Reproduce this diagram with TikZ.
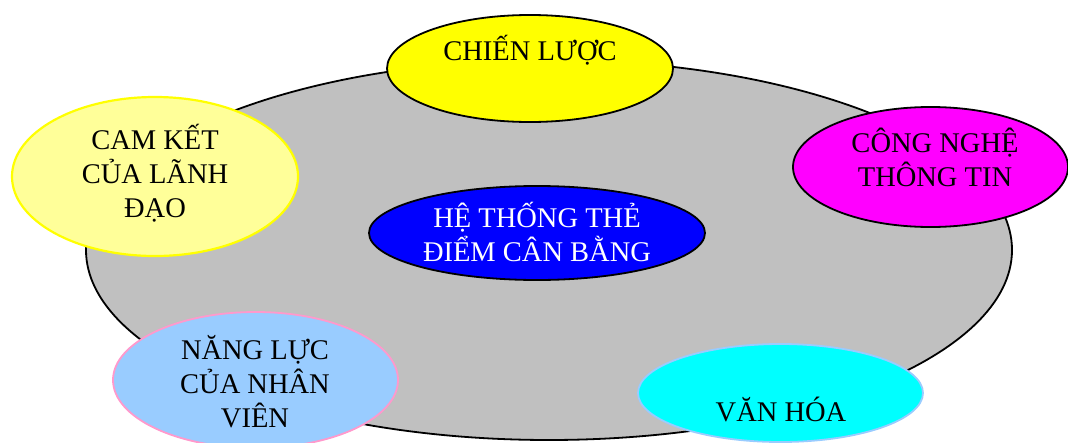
\documentclass[tikz,border=0pt]{standalone}
\usepackage{fontspec}
\setmainfont{Liberation Serif}
\usetikzlibrary{shapes.geometric}
\definecolor{ringgray}{RGB}{192,192,192}
\definecolor{paleyellow}{RGB}{255,255,153}
\definecolor{skyblue}{RGB}{153,204,255}
\definecolor{rosepink}{RGB}{255,153,204}
\definecolor{pureyellow}{RGB}{255,255,0}
\definecolor{puremagenta}{RGB}{255,0,255}
\definecolor{purecyan}{RGB}{0,255,255}
\definecolor{pureblue}{RGB}{0,0,255}
\begin{document}
\begin{tikzpicture}[x=1pt,y=-1pt,
  blob/.style={ellipse, inner sep=0pt, outer sep=0pt, line width=1.8pt, draw=black},
  caption/.style={align=center, anchor=base, inner sep=0pt,
    font=\fontsize{28.5}{34}\selectfont}]
\useasboundingbox (0,0) rectangle (1068,442);
\clip (0,0) rectangle (1068,442);
% grey ring underneath everything
\node[blob, fill=ringgray, minimum width=926pt, minimum height=380pt] (ring) at (549,250) {};
% surrounding factors
\node[blob, fill=pureyellow, minimum width=286pt, minimum height=107pt] (strat) at (530,68.5) {};
\node[blob, fill=paleyellow, draw=pureyellow, line width=2.2pt, minimum width=286pt, minimum height=159pt] (lead) at (155,176.5) {};
\node[blob, fill=puremagenta, minimum width=275pt, minimum height=120pt] (tech) at (930.5,167) {};
\node[blob, fill=skyblue, draw=rosepink, minimum width=285pt, minimum height=136pt] (staff) at (255.5,380) {};
\node[blob, fill=purecyan, draw=skyblue, minimum width=285pt, minimum height=98pt] (cult) at (780.5,393) {};
% centre
\node[blob, fill=pureblue, minimum width=336pt, minimum height=94pt] (bsc) at (537,233) {};
% captions (anchored at the baseline of their last line)
\node[caption] (stratT) at (530,60) {CHIẾN LƯỢC};
\node[caption] (leadT) at (155,217) {CAM KẾT\\CỦA LÃNH\\ĐẠO};
\node[caption] (techT) at (935,186) {CÔNG NGHỆ\\THÔNG TIN};
\node[caption, text=white] (bscT) at (537,261) {HỆ THỐNG THẺ\\ĐIỂM CÂN BẰNG};
\node[caption] (staffT) at (255,427) {NĂNG LỰC\\CỦA NHÂN\\VIÊN};
\node[caption] (cultT) at (781,421) {VĂN HÓA};
\end{tikzpicture}
\end{document}
